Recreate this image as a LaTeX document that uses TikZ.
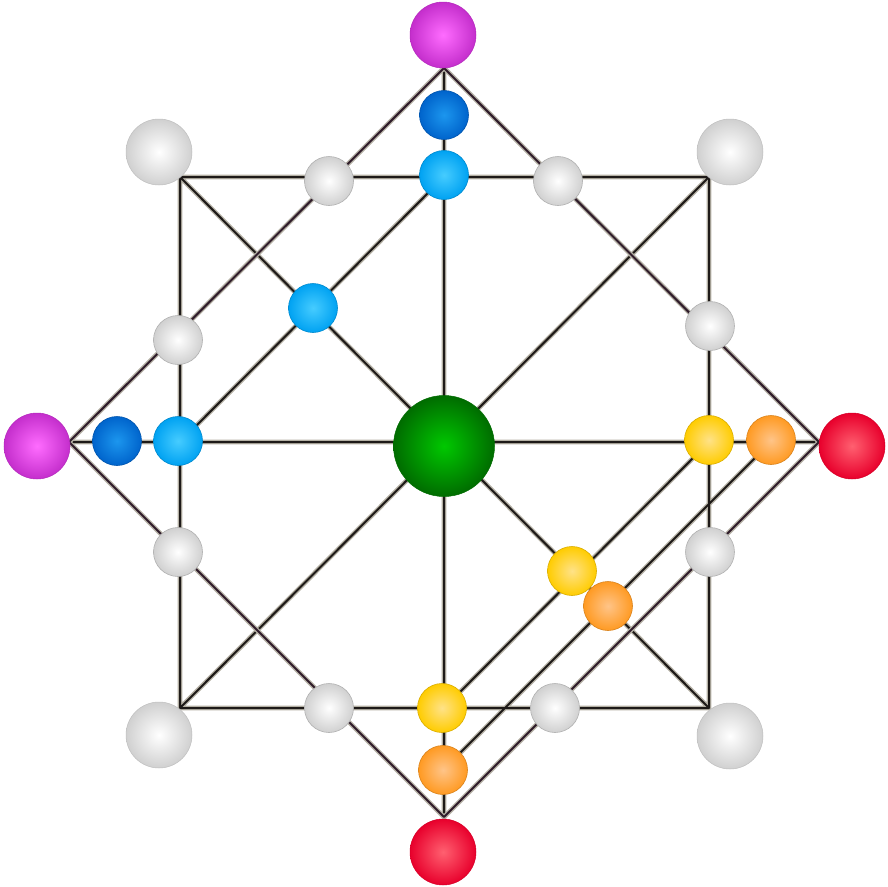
\documentclass[tikz,border=0pt]{standalone}
\definecolor{halo}{HTML}{B4B0A4}
\definecolor{core}{HTML}{1E1A18}
\definecolor{magI}{HTML}{FF6CFF}
\definecolor{magO}{HTML}{C42ECC}
\definecolor{redI}{HTML}{FF6070}
\definecolor{redO}{HTML}{E8002C}
\definecolor{gryI}{HTML}{FFFFFF}
\definecolor{gryO}{HTML}{D0D0D0}
\definecolor{dbI}{HTML}{1C96EE}
\definecolor{dbO}{HTML}{0064CC}
\definecolor{lbI}{HTML}{46CCFF}
\definecolor{lbO}{HTML}{00A2F2}
\definecolor{yeI}{HTML}{FFE288}
\definecolor{yeO}{HTML}{FFCC00}
\definecolor{orI}{HTML}{FFC488}
\definecolor{orO}{HTML}{FF9A22}
\definecolor{grI}{HTML}{00C800}
\definecolor{grO}{HTML}{006C00}
\tikzset{
  link/.style={preaction={draw=halo,line width=4.6pt},draw=core,line width=2pt,line join=round},
  sball/.style 2 args={circle,minimum size=49pt,inner sep=0pt,inner color=#1,outer color=#2,draw=#2!85!black,line width=0.6pt},
  bball/.style 2 args={circle,minimum size=66pt,inner sep=0pt,inner color=#1,outer color=#2,draw=#2!92!black,line width=0.5pt},
  gball/.style 2 args={circle,minimum size=101pt,inner sep=0pt,inner color=#1,outer color=#2,draw=#2,line width=0.5pt}
}
\begin{document}
\begin{tikzpicture}[x=1pt,y=-1pt]
\useasboundingbox (0,0) rectangle (887,887);
% geometry
\coordinate (Stl) at (180,177);
\coordinate (Str) at (709,177);
\coordinate (Sbr) at (709,708);
\coordinate (Sbl) at (180,708);
\coordinate (Mt) at (444,177);
\coordinate (Ml) at (180,442);
\coordinate (Mr) at (709,442);
\coordinate (Mb) at (444,708);
\coordinate (DT) at (444,68);
\coordinate (DL) at (69,442);
\coordinate (DR) at (819,442);
\coordinate (DB) at (444,817);
\coordinate (OR) at (771,442);
\coordinate (OB) at (444,769);
% lines
\draw[link] (Stl) -- (Str) -- (Sbr) -- (Sbl) -- cycle
  (Stl) -- (Sbr) (Str) -- (Sbl)
  (DT) -- (DB) (DL) -- (DR)
  (Mt) -- (Ml) (Mr) -- (Mb)
  (OR) -- (OB);
\draw[link,draw=core!90!magO] (DT) -- (DR) -- (DB) -- (DL) -- cycle;
% outer balls
\node[bball={magI}{magO}] (mT) at (443,35) {};
\node[bball={magI}{magO}] (mL) at (37,446) {};
\node[bball={redI}{redO}] (rR) at (852,446) {};
\node[bball={redI}{redO}] (rB) at (443,852) {};
\node[bball={gryI}{gryO}] (gTL) at (159,152) {};
\node[bball={gryI}{gryO}] (gTR) at (730,152) {};
\node[bball={gryI}{gryO}] (gBL) at (159,735) {};
\node[bball={gryI}{gryO}] (gBR) at (730,736) {};
% centre
\node[gball={grI}{grO}] (ctr) at (444,446) {};
% blue
\node[sball={dbI}{dbO}] (db1) at (444,115) {};
\node[sball={dbI}{dbO}] (db2) at (117,441) {};
\node[sball={lbI}{lbO}] (lb1) at (444,175) {};
\node[sball={lbI}{lbO}] (lb2) at (178,441) {};
\node[sball={lbI}{lbO}] (lb3) at (313,308) {};
% yellow
\node[sball={yeI}{yeO}] (ye1) at (709,440) {};
\node[sball={yeI}{yeO}] (ye2) at (572,571) {};
\node[sball={yeI}{yeO}] (ye3) at (442,708) {};
% orange
\node[sball={orI}{orO}] (or1) at (771,440) {};
\node[sball={orI}{orO}] (or2) at (608,606) {};
\node[sball={orI}{orO}] (or3) at (443,770) {};
% white
\node[sball={gryI}{gryO}] (w1) at (329,181) {};
\node[sball={gryI}{gryO}] (w2) at (558,181) {};
\node[sball={gryI}{gryO}] (w3) at (178,340) {};
\node[sball={gryI}{gryO}] (w4) at (710,326) {};
\node[sball={gryI}{gryO}] (w5) at (178,552) {};
\node[sball={gryI}{gryO}] (w6) at (710,552) {};
\node[sball={gryI}{gryO}] (w7) at (329,708) {};
\node[sball={gryI}{gryO}] (w8) at (555,708) {};
\end{tikzpicture}
\end{document}
